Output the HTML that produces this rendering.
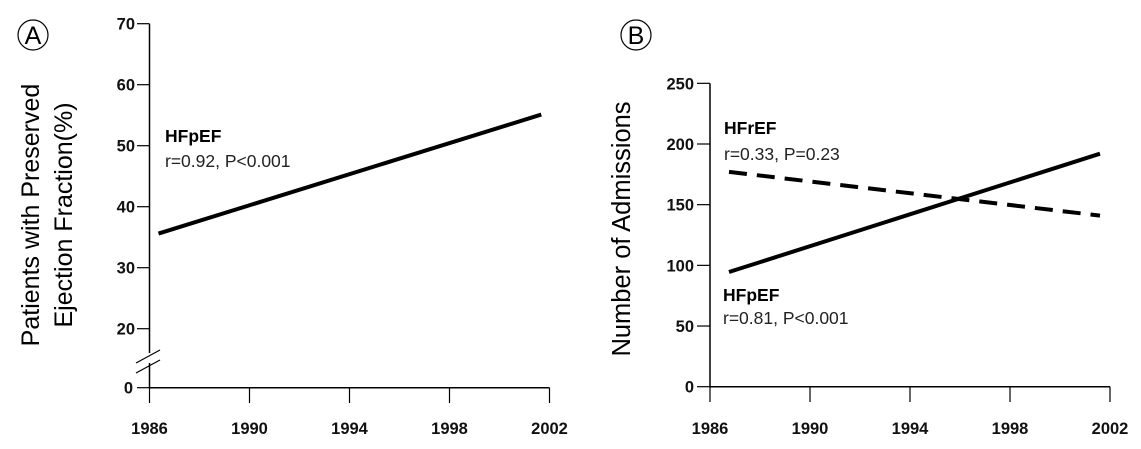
<!DOCTYPE html>
<html><head><meta charset="utf-8"><style>
html,body{margin:0;padding:0;background:#fff;}
svg{display:block;font-family:"Liberation Sans",sans-serif;}
.tk{font-weight:bold;font-size:16.5px;fill:#111;}
</style></head><body>
<svg id="chart" width="1141" height="449" viewBox="0 0 1141 449"></svg>
<script>
// Panel A data
const yearsA = [1986.36, 2001.67];
const pctA = [35.6, 55.1];
const yTicksA = [20, 30, 40, 50, 60, 70];
// Panel B data
const yearsB = [1986.76, 2001.6];
const hfpefB = [94.5, 192];
const hfrefB = [177, 141];
const yTicksB = [0, 50, 100, 150, 200, 250];
const xTicks = [1986, 1990, 1994, 1998, 2002];

const NS = "http://www.w3.org/2000/svg";
const svg = document.getElementById('chart');
function mk(tag, attrs, parent, text){
  const e = document.createElementNS(NS, tag);
  for (const k in attrs) e.setAttribute(k, attrs[k]);
  if (text !== undefined) e.textContent = text;
  (parent || svg).appendChild(e);
  return e;
}

// ---------- Panel A ----------
const gA = mk('g', {});


const axA = {x0:149.5, y0:387.7, pxYr:25};
const xA = v => axA.x0 + (v - 1986) * axA.pxYr;
const yA = v => 206.7 - (v - 40) * 6.1;

let c = mk('circle', {cx:33, cy:35, r:15, fill:'none', stroke:'#000', 'stroke-width':1.2}, gA);


let t = mk('text', {x:33, y:44, 'text-anchor':'middle', 'font-size':25}, gA, 'A');



let l = mk('path', {d:`M${axA.x0},${yA(70)} V${axA.y0} H${xA(2002)}`, stroke:'#000', 'stroke-width':1.5, fill:'none'}, gA);


mk('rect', {x:146, y:353, width:7, height:10, fill:'#fff'}, gA);
let br = mk('path', {d:`M136,363 L160,350 M136,373 L160,360`, stroke:'#000', 'stroke-width':1.2, fill:'none'}, gA);



yTicksA.forEach(v => {
  const y = yA(v);
  const tk = mk('line', {x1:137, x2:axA.x0, y1:y, y2:y, stroke:'#000', 'stroke-width':1.2}, gA);
  
  
  const lb = mk('text', {x:135, y:y+6, 'text-anchor':'end', class:'tk'}, gA, String(v));
  
  
});
{
  const tk = mk('line', {x1:137, x2:axA.x0, y1:axA.y0, y2:axA.y0, stroke:'#000', 'stroke-width':1.2}, gA);
  
  
  const lb = mk('text', {x:133, y:axA.y0+6, 'text-anchor':'end', class:'tk'}, gA, '0');
  
  
}
xTicks.forEach(v => {
  const x = xA(v);
  const tk = mk('line', {x1:x, x2:x, y1:axA.y0, y2:403, stroke:'#000', 'stroke-width':1.2}, gA);
  
  
  const lb = mk('text', {x:x, y:434, 'text-anchor':'middle', class:'tk'}, gA, String(v));
  
  
});
let ln = mk('line', {x1:xA(yearsA[0]), y1:yA(pctA[0]), x2:xA(yearsA[1]), y2:yA(pctA[1]), stroke:'#000', 'stroke-width':4}, gA);


t = mk('text', {x:165, y:142, 'font-size':17.5, 'font-weight':'bold'}, gA, 'HFpEF');


t = mk('text', {x:165, y:167, 'font-size':17.5, fill:'#222'}, gA, 'r=0.92, P<0.001');


t = mk('text', {x:0, y:0, 'font-size':25, 'text-anchor':'middle', transform:'translate(39,215) rotate(-90)'}, gA, 'Patients with Preserved');


t = mk('text', {x:0, y:0, 'font-size':25, 'text-anchor':'middle', transform:'translate(72,215) rotate(-90)'}, gA, 'Ejection Fraction(%)');



// ---------- Panel B ----------
const gB = mk('g', {});


const axB = {x0:710, y0:386.7, pxYr:25, pxU:1.2135};
const xB = v => axB.x0 + (v - 1986) * axB.pxYr;
const yB = v => axB.y0 - v * axB.pxU;

c = mk('circle', {cx:636, cy:35, r:15, fill:'none', stroke:'#000', 'stroke-width':1.2}, gB);


t = mk('text', {x:636, y:44, 'text-anchor':'middle', 'font-size':25}, gB, 'B');



l = mk('path', {d:`M${axB.x0},${yB(250)} V${axB.y0} H${xB(2002)}`, stroke:'#000', 'stroke-width':1.5, fill:'none'}, gB);


yTicksB.forEach(v => {
  const y = yB(v);
  const tk = mk('line', {x1:697, x2:axB.x0, y1:y, y2:y, stroke:'#000', 'stroke-width':1.2}, gB);
  
  
  const lb = mk('text', {x:694, y:y+6, 'text-anchor':'end', class:'tk'}, gB, String(v));
  
  
});
xTicks.forEach(v => {
  const x = xB(v);
  const tk = mk('line', {x1:x, x2:x, y1:axB.y0, y2:402, stroke:'#000', 'stroke-width':1.2}, gB);
  
  
  const lb = mk('text', {x:Math.min(x, 1120), y:434, 'text-anchor':'middle', class:'tk'}, gB, String(v));
  
  
});
ln = mk('line', {x1:xB(yearsB[0]), y1:yB(hfrefB[0]), x2:xB(yearsB[1]), y2:yB(hfrefB[1]), stroke:'#000', 'stroke-width':4, 'stroke-dasharray':'18,10'}, gB);


ln = mk('line', {x1:xB(yearsB[0]), y1:yB(hfpefB[0]), x2:xB(yearsB[1]), y2:yB(hfpefB[1]), stroke:'#000', 'stroke-width':4}, gB);


t = mk('text', {x:724, y:134, 'font-size':17.5, 'font-weight':'bold'}, gB, 'HFrEF');


t = mk('text', {x:724, y:160, 'font-size':17.5, fill:'#222'}, gB, 'r=0.33, P=0.23');


t = mk('text', {x:723, y:301, 'font-size':17.5, 'font-weight':'bold'}, gB, 'HFpEF');


t = mk('text', {x:723, y:324, 'font-size':17.5, fill:'#222'}, gB, 'r=0.81, P<0.001');


t = mk('text', {x:0, y:0, 'font-size':25.5, 'text-anchor':'middle', transform:'translate(630,229) rotate(-90)'}, gB, 'Number of Admissions');


</script>
</body></html>
